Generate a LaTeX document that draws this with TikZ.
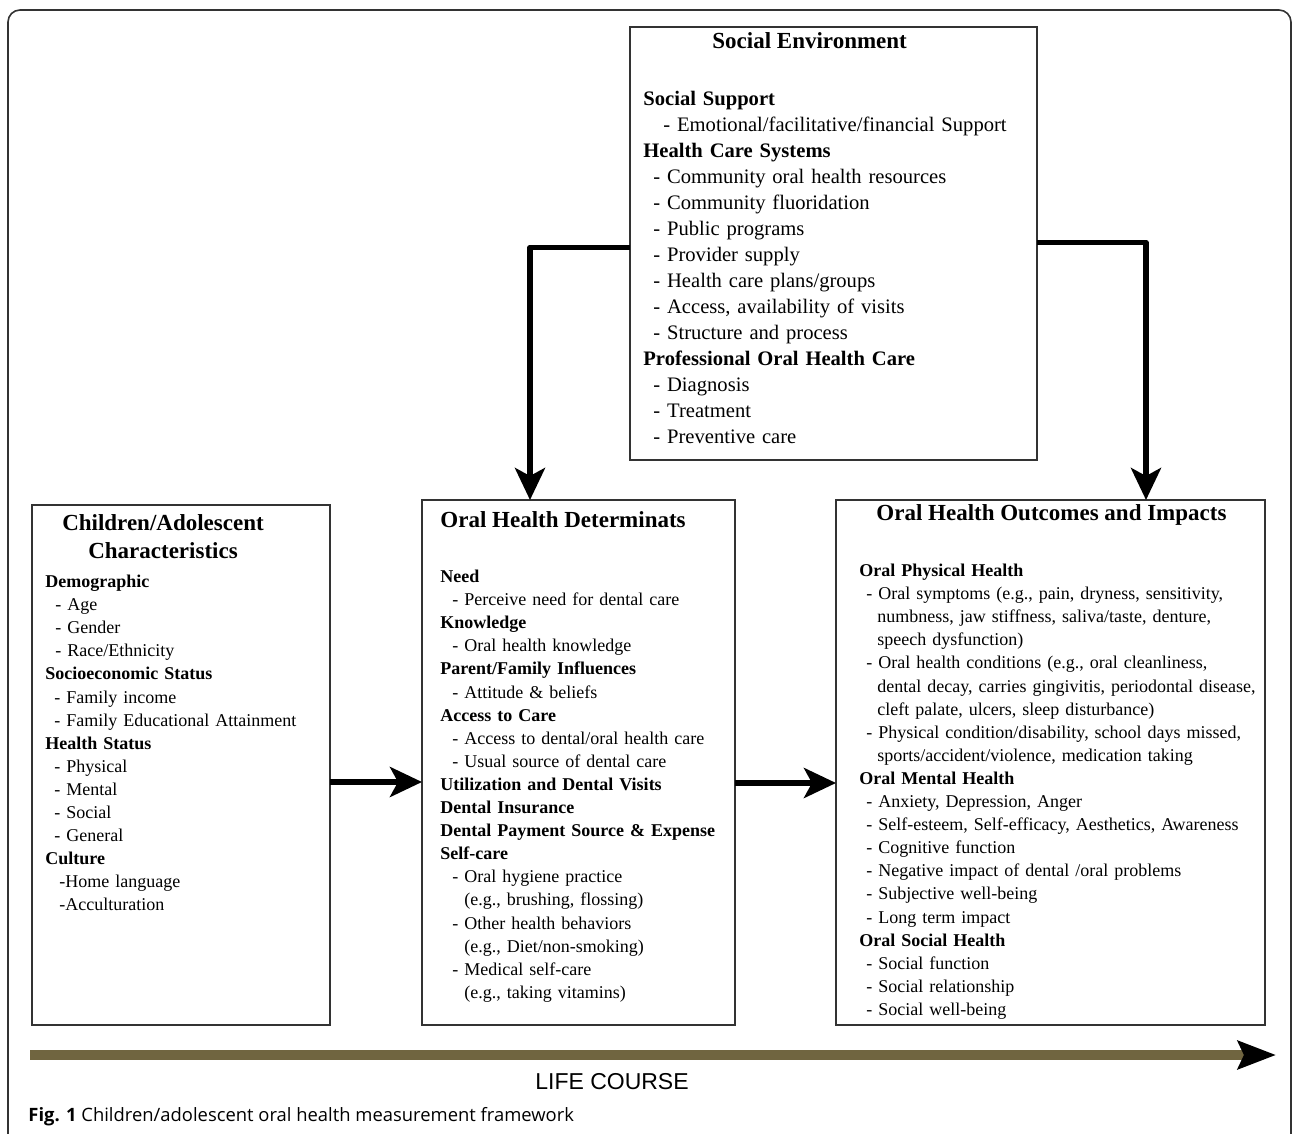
\documentclass[tikz,border=0pt]{standalone}
\usepackage{fontspec}
\setmainfont{Liberation Serif}
\newfontfamily\lifefont{Liberation Sans}
\newfontfamily\capfont{Open Sans}
\usepackage{tikz}
\usetikzlibrary{arrows.meta,calc}

\definecolor{lifeolive}{HTML}{706540}
\definecolor{framegray}{HTML}{333333}

\tikzset{
  panel/.style={draw=framegray, line width=0.9pt, rectangle, inner sep=0pt, outer sep=0pt, anchor=north west},
  paneltitle/.style={font=\fontsize{11.5}{14}\selectfont\bfseries, inner sep=0pt, anchor=base west},
  paneltext/.style={font=\fontsize{9.0}{11.55}\selectfont, inner sep=0pt, anchor=north west, align=left, text width=250pt},
  bigtext/.style={paneltext, font=\fontsize{10.3}{13}\selectfont},
  conn/.style={line width=2.8pt, line join=round, -{Stealth[length=16pt,width=15pt,inset=4pt]}},
}
\newcommand\hd[1]{\textbf{#1}}

\begin{document}
\begin{tikzpicture}[x=0.5pt, y=-0.5pt]

  \useasboundingbox (0,0) rectangle (1292,1134);
  \clip (0,0) rectangle (1292,1134);

  % outer frame
  \draw[framegray, line width=0.8pt, rounded corners=6pt] (8,1200) -- (8,10) -- (1291,10) -- (1291,1200);

  % boxes
  \node[panel, minimum width=203.5pt, minimum height=216.5pt] (social) at (630,27) {};
  \node[panel, minimum width=149pt, minimum height=260pt] (child) at (32,505) {};
  \node[panel, minimum width=156.5pt, minimum height=262.5pt] (determ) at (422,500) {};
  \node[panel, minimum width=214.5pt, minimum height=262.5pt] (outcome) at (836,500) {};

  % social environment
  \node[paneltitle] (socialtitle) at (712,49) {Social Environment};
  \node[bigtext] (socialtext) at (643,87) {\strut\hd{Social Support}\\
    \hspace*{10pt}- Emotional/facilitative/financial Support\\
    \hd{Health Care Systems}\\
    \hspace*{5pt}- Community oral health resources\\
    \hspace*{5pt}- Community fluoridation\\
    \hspace*{5pt}- Public programs\\
    \hspace*{5pt}- Provider supply\\
    \hspace*{5pt}- Health care plans/groups\\
    \hspace*{5pt}- Access, availability of visits\\
    \hspace*{5pt}- Structure and process\\
    \hd{Professional Oral Health Care}\\
    \hspace*{5pt}- Diagnosis\\
    \hspace*{5pt}- Treatment\\
    \hspace*{5pt}- Preventive care};

  % children/adolescent
  \node[paneltitle, anchor=north, align=center, text width=200pt] (childtitle) at (163,511)
    {\strut Children/Adolescent\\ Characteristics};
  \node[paneltext] (childtext) at (45,571) {\strut\hd{Demographic}\\
    \hspace*{5pt}- Age\\
    \hspace*{5pt}- Gender\\
    \hspace*{5pt}- Race/Ethnicity\\
    \hd{Socioeconomic Status}\\
    \hspace*{4.5pt}- Family income\\
    \hspace*{4.5pt}- Family Educational Attainment\\
    \hd{Health Status}\\
    \hspace*{4.5pt}- Physical\\
    \hspace*{4.5pt}- Mental\\
    \hspace*{4.5pt}- Social\\
    \hspace*{4.5pt}- General\\
    \hd{Culture}\\
    \hspace*{7pt}-Home language\\
    \hspace*{7pt}-Acculturation};

  % determinants
  \node[paneltitle] (determtitle) at (440,527) {Oral Health Determinats};
  \node[paneltext] (determtext) at (440,566) {\strut\hd{Need}\\
    \hspace*{6pt}- Perceive need for dental care\\
    \hd{Knowledge}\\
    \hspace*{6pt}- Oral health knowledge\\
    \hd{Parent/Family Influences}\\
    \hspace*{6pt}- Attitude \& beliefs\\
    \hd{Access to Care}\\
    \hspace*{6pt}- Access to dental/oral health care\\
    \hspace*{6pt}- Usual source of dental care\\
    \hd{Utilization and Dental Visits}\\
    \hd{Dental Insurance}\\
    \hd{Dental Payment Source \& Expense}\\
    \hd{Self-care}\\
    \hspace*{6pt}- Oral hygiene practice\\
    \hspace*{12pt}(e.g., brushing, flossing)\\
    \hspace*{6pt}- Other health behaviors\\
    \hspace*{12pt}(e.g., Diet/non-smoking)\\
    \hspace*{6pt}- Medical self-care\\
    \hspace*{12pt}(e.g., taking vitamins)};

  % outcomes
  \node[paneltitle] (outcometitle) at (876,521) {Oral Health Outcomes and Impacts};
  \node[paneltext] (outcometext) at (859,560) {\strut\hd{Oral Physical Health}\\
    \hspace*{3.5pt}- Oral symptoms (e.g., pain, dryness, sensitivity,\\
    \hspace*{9pt}numbness, jaw stiffness, saliva/taste, denture,\\
    \hspace*{9pt}speech dysfunction)\\
    \hspace*{3.5pt}- Oral health conditions (e.g., oral cleanliness,\\
    \hspace*{9pt}dental decay, carries gingivitis, periodontal disease,\\
    \hspace*{9pt}cleft palate, ulcers, sleep disturbance)\\
    \hspace*{3.5pt}- Physical condition/disability, school days missed,\\
    \hspace*{9pt}sports/accident/violence, medication taking\\
    \hd{Oral Mental Health}\\
    \hspace*{3.5pt}- Anxiety, Depression, Anger\\
    \hspace*{3.5pt}- Self-esteem, Self-efficacy, Aesthetics, Awareness\\
    \hspace*{3.5pt}- Cognitive function\\
    \hspace*{3.5pt}- Negative impact of dental /oral problems\\
    \hspace*{3.5pt}- Subjective well-being\\
    \hspace*{3.5pt}- Long term impact\\
    \hd{Oral Social Health}\\
    \hspace*{3.5pt}- Social function\\
    \hspace*{3.5pt}- Social relationship\\
    \hspace*{3.5pt}- Social well-being};

  % connectors
  \draw[conn] ($(social.west)+(0,4)$) -| ($(determ.north west)+(108,0)$); %% social -> determ
  \draw[conn] ($(social.east)+(0,-1)$) -| ($(outcome.north west)+(310,0)$); %% social -> outcome
  \draw[conn] ($(child.east)+(0,17)$) -- ($(determ.west)+(0,19.5)$); %% child -> determ
  \draw[conn] ($(determ.east)+(0,20.5)$) -- ($(outcome.west)+(0,20.5)$); %% determ -> outcome

  % life course
  \coordinate (lcstart) at (30,1055);
  \coordinate (lcend) at (1276,1055);
  \draw[lifeolive, line width=5pt, -{Stealth[length=19pt,width=14pt,inset=3pt,color=black]}] (lcstart) -- (lcend);
  \node[font=\lifefont\fontsize{11.5}{14}\selectfont, inner sep=0pt] (lifelabel) at (612,1082) {LIFE COURSE};

  % caption
  \node[font=\capfont\fontsize{9.2}{11}\selectfont, inner sep=0pt, anchor=base west] (caption) at (28,1121)
    {\textbf{Fig. 1} Children/adolescent oral health measurement framework};

\end{tikzpicture}
\end{document}
